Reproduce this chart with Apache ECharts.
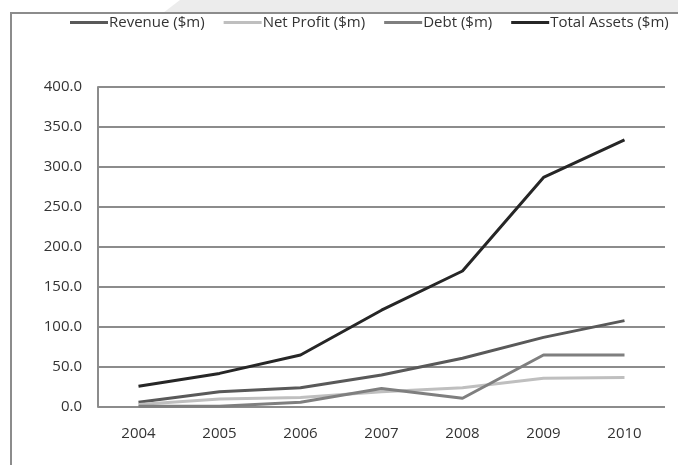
<!DOCTYPE html>
<html>
<head>
<meta charset="utf-8">
<script src="https://cdn.jsdelivr.net/npm/echarts@6/dist/echarts.min.js"></script>
<style>
  html, body { margin: 0; padding: 0; background: #ffffff; }
  #chart { width: 678px; height: 465px; }
</style>
</head>
<body>
<div id="chart"></div>
<script>
// Yearly financial figures, in millions of dollars
const years = ['2004', '2005', '2006', '2007', '2008', '2009', '2010'];
const revenue = [6, 19, 24, 40, 61, 87, 108];
const netProfit = [3, 10, 12, 19, 24, 36, 37];
const debt = [1, 1, 6, 23, 11, 65, 65];
const totalAssets = [26, 42, 65, 121, 170, 287, 334];
const yTicks = { min: 0, max: 400, step: 50 };

const seriesDefs = [
  { name: 'Revenue ($m)', data: revenue, color: '#595959' },
  { name: 'Net Profit ($m)', data: netProfit, color: '#bfbfbf' },
  { name: 'Debt ($m)', data: debt, color: '#7f7f7f' },
  { name: 'Total Assets ($m)', data: totalAssets, color: '#262626' }
];

const fontFamily = '"Open Sans", "Noto Sans", sans-serif';
const chart = echarts.init(document.getElementById('chart'), null, { renderer: 'canvas' });

chart.setOption({
  animation: false,
  backgroundColor: '#ffffff',
  graphic: [
    // shaded band above the frame
    {
      type: 'polygon',
      silent: true,
      z: -10,
      shape: { points: [[163, 13], [180, 0], [678, 0], [678, 13]] },
      style: { fill: '#ececec' }
    },
    // frame edges
    {
      type: 'polyline',
      silent: true,
      shape: { points: [[11, 465], [11, 13], [678, 13]] },
      style: { stroke: '#8c8c8c', lineWidth: 2, fill: 'none' }
    }
  ],
  legend: {
    left: 70,
    top: 15,
    width: 605,
    padding: 0,
    itemGap: 19,
    itemWidth: 38,
    itemHeight: 3,
    icon: 'rect',
    textStyle: { fontFamily: fontFamily, fontSize: 15, color: '#333333', padding: [0, 0, 0, -4] },
    data: seriesDefs.map(s => ({ name: s.name, itemStyle: { color: s.color } }))
  },
  grid: { left: 98, right: 13, top: 87, bottom: 58, containLabel: false },
  xAxis: {
    type: 'category',
    data: years,
    boundaryGap: true,
    axisLine: { show: false },
    axisTick: { show: false },
    axisLabel: { fontFamily: fontFamily, fontSize: 15, color: '#333333', margin: 19 }
  },
  yAxis: {
    type: 'value',
    min: yTicks.min,
    max: yTicks.max,
    interval: yTicks.step,
    axisLine: { show: true, lineStyle: { color: '#8c8c8c', width: 2 } },
    axisTick: { show: false },
    splitLine: { show: true, lineStyle: { color: '#8c8c8c', width: 2 } },
    axisLabel: {
      fontFamily: fontFamily, fontSize: 15, color: '#333333', margin: 16,
      formatter: v => v.toFixed(1)
    }
  },
  series: seriesDefs.map(s => ({
    name: s.name,
    type: 'line',
    data: s.data,
    symbol: 'none',
    lineStyle: { color: s.color, width: 3 },
    itemStyle: { color: s.color }
  }))
});
</script>
</body>
</html>
